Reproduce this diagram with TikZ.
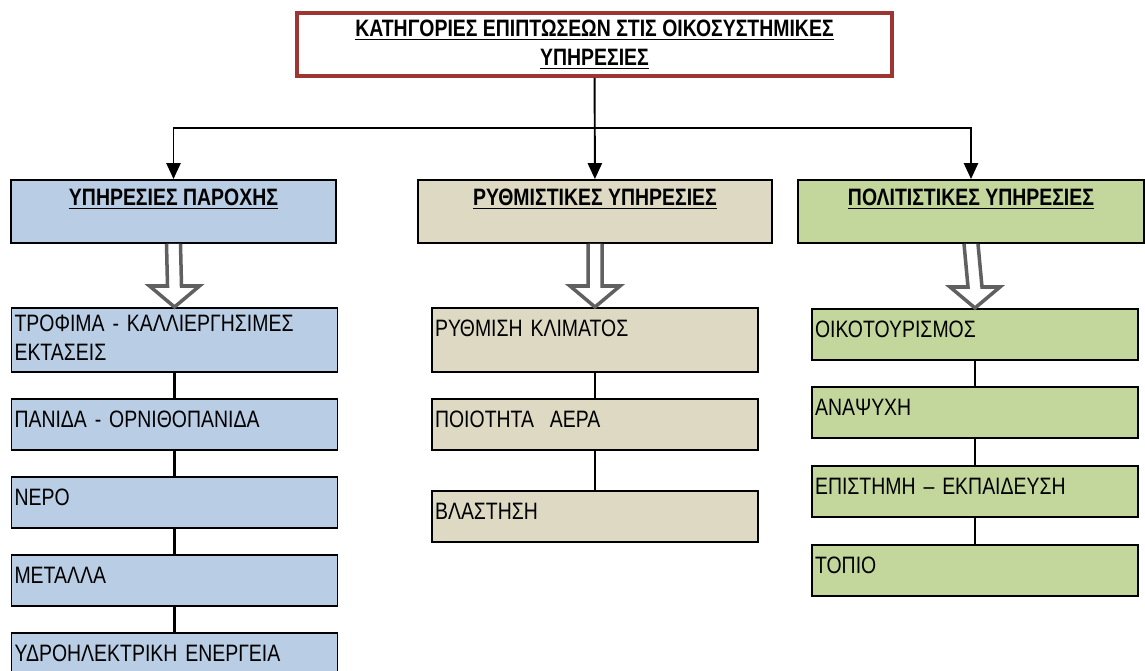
\documentclass[tikz,border=0pt]{standalone}
\usepackage{fontspec}
\setmainfont{Liberation Sans}[FakeStretch=0.82]
\usepackage{tikz}
\usetikzlibrary{arrows.meta, positioning, calc}
\definecolor{title-red}{HTML}{9E3533}
\definecolor{prov-blue}{HTML}{B9CDE5}
\definecolor{reg-beige}{HTML}{DDD9C3}
\definecolor{cult-green}{HTML}{C3D69B}
\definecolor{hollow-gray}{HTML}{606060}

\begin{document}
\begin{tikzpicture}[
    x=0.02cm, y=-0.02cm,
    font=\fontsize{13.5}{16}\selectfont,
    node distance=0.5cm,
    titlebox/.style={rectangle, draw=title-red, line width=2.2pt, fill=white, minimum width=11.9cm, minimum height=1.26cm, align=center, font=\fontsize{13.5}{16.5}\selectfont\bfseries},
    head/.style={rectangle, draw=black, line width=1.1pt, minimum height=1.26cm, inner ysep=0pt, text height=0.52cm, text depth=0.74cm, font=\fontsize{13.5}{16}\selectfont\bfseries},
    item/.style={rectangle, draw=black, line width=1.1pt, text width=6.4cm, inner xsep=0.06cm, inner ysep=0pt, align=left, text height=0.58cm, text depth=0.44cm},
    tall/.style={text depth=0.7cm},
    link/.style={line width=1.6pt, black},
    arrow/.style={-{Triangle[length=9pt, width=8pt]}, line width=1.1pt, black},
    hollow/.style={draw=hollow-gray, line width=2pt, fill=white, line join=miter}
]
    \useasboundingbox (0,0) rectangle (1145,671);

    \node[titlebox] (title) at (594.5,44.5) {\underline{ΚΑΤΗΓΟΡΙΕΣ ΕΠΙΠΤΩΣΕΩΝ ΣΤΙΣ ΟΙΚΟΣΥΣΤΗΜΙΚΕΣ}\\\underline{ΥΠΗΡΕΣΙΕΣ}};

    \node[head, fill=prov-blue, minimum width=6.5cm] (h1) at (173.5,211.5) {\underline{ΥΠΗΡΕΣΙΕΣ ΠΑΡΟΧΗΣ}};
    \node[head, fill=reg-beige, minimum width=7.08cm] (h2) at (595,211.5) {\underline{ΡΥΘΜΙΣΤΙΚΕΣ ΥΠΗΡΕΣΙΕΣ}};
    \node[head, fill=cult-green, minimum width=6.92cm] (h3) at (971,211.5) {\underline{ΠΟΛΙΤΙΣΤΙΚΕΣ ΥΠΗΡΕΣΙΕΣ}};

    % provisioning services
    \node[item, tall, fill=prov-blue, anchor=north, text height=0.48cm, text depth=0.8cm] (l1) at (174.5,307) {ΤΡΟΦΙΜΑ - ΚΑΛΛΙΕΡΓΗΣΙΜΕΣ\\ΕΚΤΑΣΕΙΣ};
    \node[item, fill=prov-blue, below=of l1] (l2) {ΠΑΝΙΔΑ - ΟΡΝΙΘΟΠΑΝΙΔΑ};
    \node[item, fill=prov-blue, below=of l2] (l3) {ΝΕΡΟ};
    \node[item, fill=prov-blue, below=of l3] (l4) {ΜΕΤΑΛΛΑ};
    \node[item, fill=prov-blue, below=of l4] (l5) {ΥΔΡΟΗΛΕΚΤΡΙΚΗ ΕΝΕΡΓΕΙΑ};

    % regulating services
    \node[item, tall, fill=reg-beige, anchor=north] (m1) at (595,307) {ΡΥΘΜΙΣΗ ΚΛΙΜΑΤΟΣ};
    \node[item, fill=reg-beige, below=of m1] (m2) {ΠΟΙΟΤΗΤΑ\ \ ΑΕΡΑ};
    \node[item, fill=reg-beige, below=0.78cm of m2] (m3) {ΒΛΑΣΤΗΣΗ};

    % cultural services
    \node[item, fill=cult-green, anchor=north] (r1) at (975,308) {ΟΙΚΟΤΟΥΡΙΣΜΟΣ};
    \node[item, fill=cult-green, below=of r1] (r2) {ΑΝΑΨΥΧΗ};
    \node[item, fill=cult-green, below=0.52cm of r2] (r3) {ΕΠΙΣΤΗΜΗ – ΕΚΠΑΙΔΕΥΣΗ};
    \node[item, fill=cult-green, below=0.52cm of r3] (r4) {ΤΟΠΙΟ};

    \coordinate (fork) at (595,128);
    \draw[arrow] (title) -- (h2);
    \draw[arrow] (fork) -| (h1.north);
    \draw[arrow] (fork) -| (h3.north);

    \draw[link] (l1) -- (l2);
    \draw[link] (l2) -- (l3);
    \draw[link] (l3) -- (l4);
    \draw[link] (l4) -- (l5);
    \draw[link] (m1) -- (m2);
    \draw[link] (m2) -- (m3);
    \draw[link] (r1) -- (r2);
    \draw[link] (r2) -- (r3);
    \draw[link] (r3) -- (r4);

    \foreach \from/\to in {h1/l1, h2/m1, h3/r1}
        \draw[hollow] ($(\from.south)+(-7,0)$) -- ($(\to.north)+(-7,-21)$) -- ($(\to.north)+(-25,-21)$) -- (\to.north)
            -- ($(\to.north)+(25,-21)$) -- ($(\to.north)+(7,-21)$) -- ($(\from.south)+(7,0)$);
\end{tikzpicture}
\end{document}
